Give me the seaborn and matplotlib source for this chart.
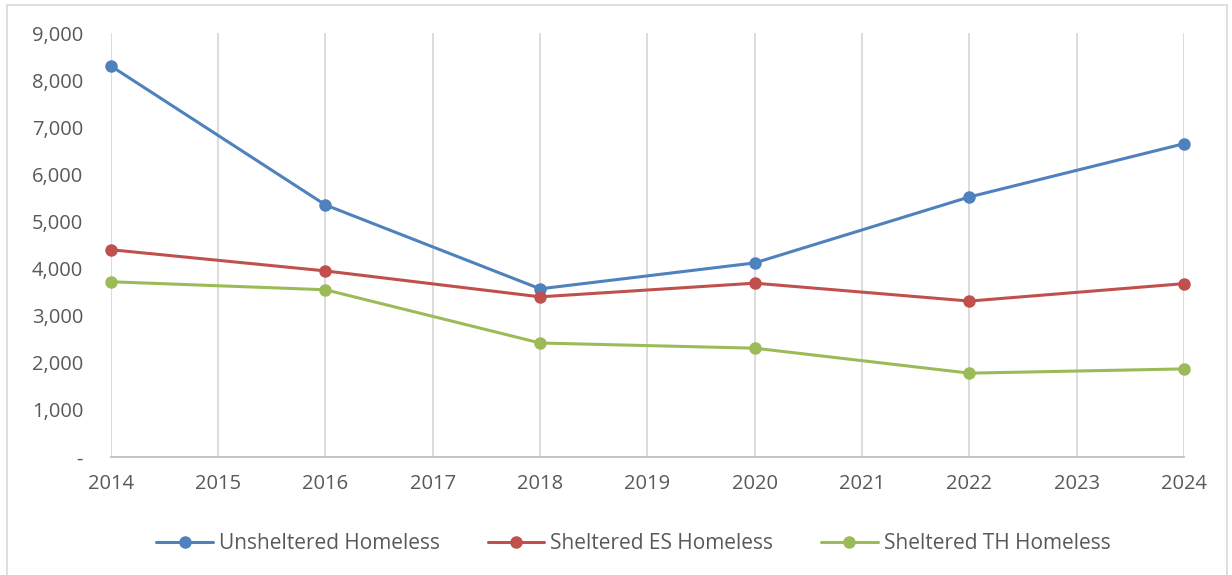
import matplotlib
matplotlib.use("Agg")
import matplotlib.pyplot as plt
import matplotlib.ticker as mticker
from matplotlib.patches import Rectangle
import numpy as np
import pandas as pd
import seaborn as sns

# data
years = [2014, 2016, 2018, 2020, 2022, 2024]
unsheltered = [8300, 5350, 3570, 4120, 5520, 6650]
sheltered_es = [4400, 3950, 3400, 3690, 3310, 3680]
sheltered_th = [3720, 3550, 2420, 2310, 1780, 1870]
series_names = ['Unsheltered Homeless', 'Sheltered ES Homeless', 'Sheltered TH Homeless']
colors = ['#4F81BD', '#C0504D', '#9BBB59']

df = pd.DataFrame({
    'year': years * 3,
    'value': unsheltered + sheltered_es + sheltered_th,
    'series': np.repeat(series_names, len(years)),
})

sns.set_style('white')
plt.rcParams['font.family'] = ['Open Sans', 'DejaVu Sans']
text_col = '#595959'

fig = plt.figure(figsize=(12.32, 5.75), dpi=100)
ax = fig.add_axes([0.090, 0.2052, 0.871, 0.7374])

# chart frame
fig.patches.append(Rectangle((7 / 1232, -0.01), 1 - 12 / 1232, 1 - 5 / 575 + 0.01,
                             transform=fig.transFigure, fill=False,
                             edgecolor='#d9d9d9', linewidth=1.2))

sns.lineplot(data=df, x='year', y='value', hue='series', palette=colors,
             marker='o', markersize=9, markeredgewidth=0, linewidth=2.2,
             ax=ax)

ax.set_xlim(2014, 2024)
ax.set_ylim(0, 9000)
ax.set_xticks(range(2014, 2025))
ax.set_yticks(range(0, 9001, 1000))
ax.yaxis.set_major_formatter(mticker.FuncFormatter(
    lambda v, p: '-' if v == 0 else f'{int(v):,}'))
ax.xaxis.grid(True, color='#d9d9d9', linewidth=1.3)
ax.yaxis.grid(False)
for s in ['top', 'right', 'left']:
    ax.spines[s].set_visible(False)
ax.spines['bottom'].set_color('#bfbfbf')
ax.spines['bottom'].set_linewidth(1.3)
ax.tick_params(axis='both', length=0, labelsize=14.5, labelcolor=text_col)
ax.tick_params(axis='x', pad=12)
ax.tick_params(axis='y', pad=20)
ax.set_xlabel('')
ax.set_ylabel('')
for line in ax.lines:
    line.set_clip_on(False)

ax.legend(loc='center', bbox_to_anchor=(0.487, -0.205), ncol=3, frameon=False,
          fontsize=15, labelcolor=text_col, handlelength=2.7, handletextpad=0.3,
          columnspacing=2.3)

fig.savefig('out.png', dpi=100)
